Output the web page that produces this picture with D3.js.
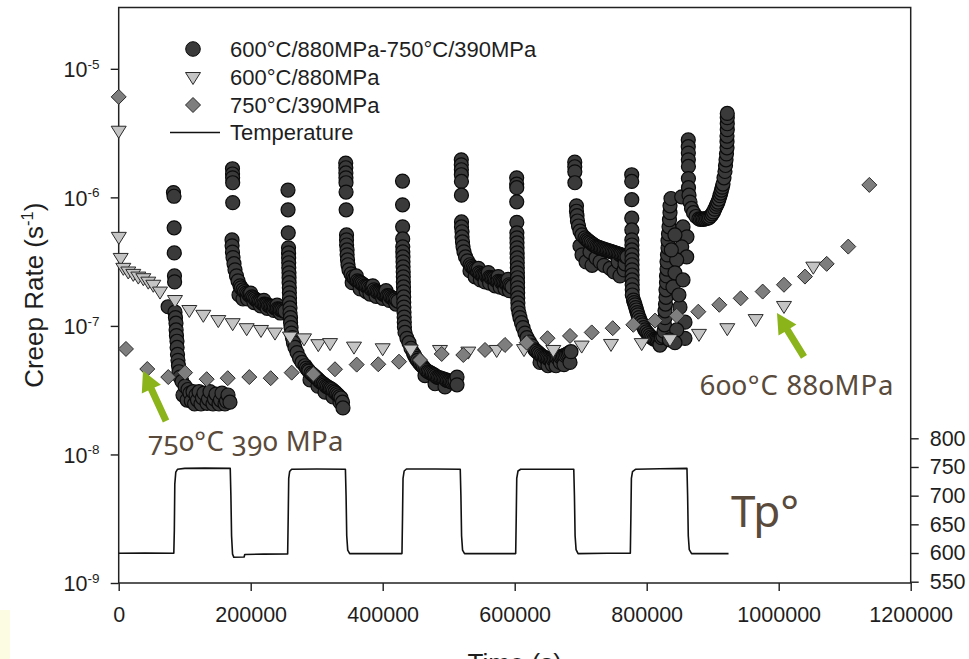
<!DOCTYPE html>
<html>
<head>
<meta charset="utf-8">
<script src="https://cdn.jsdelivr.net/npm/d3@7"></script>
<style>
  html, body { margin: 0; padding: 0; background: #ffffff; }
  svg { display: block; }
  .axis text { font-family: "Liberation Sans", Arial, sans-serif; fill: #1e1e1e; }
</style>
</head>
<body>
<svg id="chart" width="969" height="659"></svg>
<script>
// ---------------- data ----------------
// Axis ticks
const timeTicks = [0, 200000, 400000, 600000, 800000, 1000000, 1200000];
const rateTicks = [1e-9, 1e-8, 1e-7, 1e-6, 1e-5];
const tempTicks = [550, 600, 650, 700, 750, 800];

// Legend entries
const legendLabels = ["600°C/880MPa-750°C/390MPa", "600°C/880MPa", "750°C/390MPa", "Temperature"];

// Furnace temperature record of the cyclic test: [time (s), T (°C)]
const temperature = [
  [0, 599.5], [40000, 599.8], [83500, 599.5], [84300, 640], [85000, 720], [86500, 741], [89000, 746],
  [100000, 747.5], [130000, 748], [169000, 747.5], [170000, 700], [171000, 630], [172500, 598],
  [174500, 592.5], [190000, 593], [191000, 597.5], [220000, 598], [256000, 598.5], [256800, 660],
  [257600, 730], [259000, 742], [262000, 746], [300000, 746.5], [343500, 746], [344500, 700],
  [345500, 630], [347000, 605], [350000, 599], [400000, 599], [429200, 599], [430000, 660],
  [430800, 730], [432500, 743], [436000, 746.5], [480000, 746.5], [517500, 746], [518500, 700],
  [519500, 630], [521000, 605], [524000, 599], [560000, 599], [601500, 599], [602300, 660],
  [603100, 730], [605000, 743], [609000, 746], [650000, 746], [689500, 746], [690500, 700],
  [691500, 630], [693000, 606], [696000, 599], [740000, 599.5], [775200, 599.5], [776000, 660],
  [776800, 730], [778500, 742], [783000, 746], [820000, 747], [861000, 747.5], [862000, 700],
  [863000, 630], [864500, 606], [868000, 599], [900000, 599], [924000, 599]
];

// Constant-condition test 600°C / 880 MPa: [time (s), creep rate (1/s)]
const rate600 = [
  [0, 3.3e-6], [200, 4.93e-7], [3000, 3.38e-7], [7000, 2.83e-7], [14500, 2.65e-7], [22100, 2.54e-7],
  [29700, 2.42e-7], [37300, 2.35e-7], [44800, 2.21e-7], [52400, 2.09e-7], [62600, 1.85e-7],
  [85300, 1.59e-7], [107000, 1.33e-7], [128200, 1.22e-7], [150900, 1.11e-7], [172700, 1.05e-7],
  [193900, 9.6e-8], [215600, 9.3e-8], [236800, 8.87e-8], [259500, 8.26e-8], [280800, 8.0e-8],
  [302400, 7.21e-8], [320200, 7.35e-8], [356500, 6.9e-8], [400000, 6.7e-8], [442400, 6.55e-8],
  [486800, 6.5e-8], [529700, 6.31e-8], [572700, 6.5e-8], [614100, 6.6e-8], [658500, 6.5e-8],
  [701500, 7.03e-8], [745900, 7.24e-8], [792400, 7.35e-8], [835300, 7.89e-8], [879200, 8.67e-8],
  [922100, 9.6e-8], [965100, 1.13e-7], [1008000, 1.43e-7], [1052400, 2.89e-7]
];

// Constant-condition test 750°C / 390 MPa
const rate750 = [
  [0, 6.05e-6], [11000, 6.62e-8], [43300, 4.62e-8], [75100, 4.0e-8], [100500, 4.33e-8],
  [133300, 3.85e-8], [165200, 3.92e-8], [197900, 4.0e-8], [230300, 3.92e-8], [262100, 4.33e-8],
  [294800, 4.22e-8], [327700, 4.6e-8], [360600, 5.0e-8], [393300, 5.03e-8], [424700, 5.27e-8],
  [456500, 5.43e-8], [489400, 6.05e-8], [522100, 5.94e-8], [555000, 6.5e-8], [585300, 7.11e-8],
  [618200, 7.41e-8], [649700, 8.02e-8], [683800, 8.36e-8], [716700, 8.9e-8], [748500, 9.6e-8],
  [779700, 1.02e-7], [812600, 1.10e-7], [845400, 1.20e-7], [878200, 1.29e-7], [910000, 1.46e-7],
  [942400, 1.64e-7], [975700, 1.85e-7], [1008000, 2.09e-7], [1039800, 2.42e-7], [1072700, 3.04e-7],
  [1105400, 4.14e-7], [1137300, 1.25e-6]
];

// Cyclic test 600°C/880MPa <-> 750°C/390MPa, one array per stage
const cyclicStart = [[74900, 1.41e-7]];

const cycle1Hot = [
  [83000, 1.09e-6], [83800, 1.02e-6], [84000, 5.8e-7], [84200, 3.7e-7], [84500, 2.45e-7], [84700, 2.2e-7],
  [85300, 1.28e-7], [86000, 1.16e-7], [86800, 1.05e-7], [87000, 9.3e-8], [87500, 8.4e-8], [88300, 7.6e-8],
  [88500, 6.8e-8], [89100, 6.0e-8], [89800, 5.4e-8], [90600, 4.9e-8], [91400, 4.4e-8], [92900, 4.0e-8],
  [95900, 3.7e-8], [97400, 2.9e-8], [100500, 3.4e-8], [103600, 2.65e-8], [105000, 3.2e-8], [108000, 3.0e-8],
  [110000, 2.6e-8], [112600, 3.08e-8], [115000, 2.47e-8], [117100, 2.9e-8], [119400, 2.65e-8],
  [121700, 3.08e-8], [124700, 2.47e-8], [126900, 2.75e-8], [129200, 3.0e-8], [133800, 2.5e-8],
  [136000, 2.7e-8], [138300, 3.08e-8], [142900, 2.47e-8], [145100, 2.7e-8], [147400, 2.95e-8],
  [152000, 2.47e-8], [154200, 2.65e-8], [156500, 3.0e-8], [161100, 2.47e-8], [163300, 2.6e-8],
  [165600, 2.9e-8], [168600, 2.55e-8]
];

const cycle1Cold = [
  [172400, 1.67e-6], [172500, 1.52e-6], [172600, 1.42e-6], [172700, 1.30e-6], [172800, 9.1e-7],
  [171700, 4.67e-7], [171800, 4.2e-7], [172400, 3.75e-7], [173200, 3.4e-7], [174700, 3.05e-7],
  [176200, 2.73e-7], [178500, 2.45e-7], [180800, 2.24e-7], [183800, 2.05e-7], [182300, 1.74e-7],
  [185500, 1.98e-7], [188300, 1.91e-7], [188300, 1.62e-7], [190600, 1.85e-7], [192900, 1.80e-7],
  [195100, 1.77e-7], [195100, 1.62e-7], [197400, 1.74e-7], [199700, 1.71e-7], [200000, 1.80e-7],
  [202000, 1.68e-7], [204200, 1.65e-7], [205000, 1.52e-7], [206500, 1.62e-7], [208800, 1.59e-7],
  [211100, 1.56e-7], [213300, 1.55e-7], [215000, 1.43e-7], [215600, 1.53e-7], [217900, 1.50e-7],
  [220000, 1.58e-7], [220200, 1.48e-7], [222400, 1.47e-7], [224700, 1.46e-7], [225000, 1.37e-7],
  [227000, 1.44e-7], [229300, 1.43e-7], [231500, 1.42e-7], [233800, 1.41e-7], [235000, 1.32e-7],
  [236000, 1.39e-7], [238300, 1.37e-7], [240000, 1.45e-7], [240600, 1.36e-7], [242900, 1.35e-7],
  [245000, 1.26e-7], [245100, 1.34e-7], [247400, 1.33e-7], [249700, 1.31e-7], [252000, 1.30e-7]
];

const cycle2Hot = [
  [256500, 1.14e-6], [256600, 8.0e-7], [256900, 5.3e-7],
  [257300, 4.05e-7], [257400, 3.70e-7], [257500, 3.38e-7], [257600, 3.10e-7], [257700, 2.83e-7],
  [258000, 2.59e-7], [258100, 2.37e-7], [258200, 2.17e-7], [258500, 1.98e-7], [258600, 1.81e-7],
  [258800, 1.65e-7], [258900, 1.51e-7], [259500, 1.38e-7], [259600, 1.26e-7], [260300, 1.16e-7],
  [260400, 1.06e-7], [261100, 9.7e-8], [261800, 8.8e-8], [263300, 8.1e-8], [264800, 7.4e-8],
  [267100, 6.8e-8], [270200, 6.2e-8], [274000, 5.6e-8], [277700, 5.2e-8], [282300, 4.9e-8],
  [284500, 4.7e-8], [286800, 4.55e-8], [288300, 4.45e-8], [289900, 3.8e-8], [291400, 4.3e-8],
  [293600, 4.2e-8], [295900, 4.1e-8], [298200, 4.0e-8], [300500, 3.9e-8], [301900, 3.4e-8],
  [302700, 3.8e-8], [305000, 3.7e-8], [307300, 3.62e-8], [309600, 3.55e-8], [311800, 3.48e-8],
  [312600, 3.05e-8], [314100, 3.4e-8], [316400, 3.35e-8], [318700, 3.3e-8], [320900, 3.25e-8],
  [323200, 3.2e-8], [324700, 2.8e-8], [325400, 3.12e-8], [327700, 3.05e-8], [330000, 2.97e-8],
  [332300, 2.9e-8], [334500, 2.82e-8], [335300, 2.55e-8], [336800, 2.75e-8], [339100, 2.55e-8],
  [339800, 2.3e-8]
];

const cycle2Cold = [
  [344000, 1.85e-6], [344100, 1.70e-6], [344200, 1.55e-6], [344300, 1.42e-6], [344400, 1.30e-6],
  [344500, 1.10e-6], [344600, 8.0e-7],
  [345200, 5.1e-7], [345200, 4.67e-7], [345300, 4.26e-7], [346000, 3.9e-7], [346100, 3.57e-7],
  [346700, 3.26e-7], [347400, 2.99e-7], [348900, 2.73e-7], [352000, 2.54e-7], [353800, 2.17e-7],
  [355000, 2.41e-7], [357300, 2.34e-7], [359600, 2.28e-7], [360000, 2.45e-7], [361800, 2.24e-7],
  [364100, 2.20e-7], [365800, 1.94e-7], [366300, 2.17e-7], [368600, 2.13e-7], [370900, 2.09e-7],
  [373200, 2.05e-7], [375000, 1.85e-7], [375400, 2.03e-7], [377700, 2.01e-7], [380000, 1.97e-7],
  [380800, 1.77e-7], [382300, 1.94e-7], [384500, 1.92e-7], [385000, 2.05e-7], [386800, 1.91e-7],
  [389100, 1.86e-7], [390000, 1.70e-7], [391400, 1.84e-7], [393600, 1.82e-7], [395900, 1.81e-7],
  [398200, 1.79e-7], [400000, 1.64e-7], [400500, 1.77e-7], [402700, 1.75e-7], [405000, 1.74e-7],
  [405000, 1.88e-7], [407300, 1.72e-7], [409600, 1.71e-7], [410000, 1.58e-7], [411800, 1.68e-7],
  [414100, 1.65e-7], [416400, 1.63e-7], [418700, 1.62e-7], [420000, 1.48e-7], [420900, 1.59e-7],
  [423200, 1.56e-7]
];

const cycle3Hot = [
  [430000, 1.34e-6], [430100, 8.75e-7], [430200, 5.9e-7], [430300, 4.75e-7],
  [430400, 4.12e-7], [430500, 3.77e-7], [430700, 3.44e-7], [430800, 3.15e-7], [430900, 2.88e-7],
  [431100, 2.63e-7], [431200, 2.41e-7], [431300, 2.20e-7], [431500, 2.01e-7], [431600, 1.84e-7],
  [431800, 1.68e-7], [431900, 1.53e-7], [432100, 1.40e-7], [432300, 1.28e-7], [432500, 1.17e-7],
  [432700, 1.07e-7], [432900, 9.8e-8],
  [433800, 8.9e-8], [436800, 8.0e-8], [439800, 7.4e-8], [442900, 6.7e-8], [446700, 6.1e-8],
  [448600, 5.85e-8], [450500, 5.6e-8], [452700, 5.4e-8], [455000, 5.2e-8], [457200, 5.05e-8],
  [459500, 4.9e-8], [461800, 4.75e-8], [464100, 4.6e-8], [464100, 4.1e-8], [466300, 4.5e-8],
  [468600, 4.4e-8], [470900, 4.35e-8], [473200, 4.3e-8], [475400, 4.22e-8], [477700, 4.16e-8],
  [479300, 3.55e-8], [480000, 4.08e-8], [482300, 4.0e-8], [484500, 3.97e-8], [486800, 3.94e-8],
  [489100, 3.9e-8], [491400, 3.87e-8], [493600, 3.83e-8], [494400, 3.35e-8], [495900, 3.8e-8],
  [498200, 3.76e-8], [500500, 3.73e-8], [502700, 3.7e-8], [505000, 3.66e-8], [507300, 3.7e-8],
  [509600, 3.73e-8], [512600, 4.0e-8], [512600, 3.48e-8]
];

const cycle3Cold = [
  [519100, 1.96e-6], [519100, 1.79e-6], [519200, 1.64e-6], [519200, 1.50e-6], [519300, 1.33e-6],
  [519300, 1.04e-6],
  [519400, 6.44e-7], [519400, 5.89e-7], [520200, 5.40e-7], [520200, 4.92e-7], [520900, 4.5e-7],
  [521700, 4.12e-7], [523200, 3.77e-7], [525500, 3.44e-7], [528500, 3.21e-7], [532300, 2.99e-7],
  [532300, 2.68e-7], [534500, 2.9e-7], [536800, 2.83e-7], [539100, 2.78e-7], [540000, 2.41e-7],
  [541400, 2.73e-7], [543600, 2.66e-7], [545000, 2.80e-7], [545900, 2.59e-7], [548000, 2.28e-7],
  [548200, 2.54e-7], [550500, 2.49e-7], [552700, 2.47e-7], [555000, 2.45e-7], [555000, 2.20e-7],
  [557300, 2.43e-7], [559600, 2.41e-7], [560000, 2.60e-7], [561800, 2.39e-7], [562000, 2.15e-7],
  [564100, 2.37e-7], [566400, 2.35e-7], [568700, 2.33e-7], [570200, 2.05e-7], [570900, 2.28e-7],
  [573200, 2.24e-7], [575000, 2.42e-7], [575500, 2.22e-7], [577800, 2.20e-7], [578000, 2.00e-7],
  [580000, 2.18e-7], [582300, 2.17e-7], [584600, 2.15e-7], [585300, 1.94e-7], [586900, 2.13e-7],
  [589100, 2.11e-7], [590000, 2.30e-7], [591400, 2.09e-7], [592000, 1.88e-7], [593700, 2.05e-7],
  [596000, 2.01e-7]
];

const cycle4Hot = [
  [603000, 1.42e-6], [603000, 1.27e-6], [603100, 1.19e-6], [603100, 9.23e-7], [603200, 6.4e-7],
  [603300, 5.3e-7], [603400, 4.84e-7], [603500, 4.43e-7], [603600, 4.05e-7], [603700, 3.70e-7],
  [603800, 3.38e-7], [603900, 3.10e-7], [604000, 2.83e-7], [604100, 2.59e-7], [604200, 2.37e-7],
  [604300, 2.17e-7], [604400, 1.98e-7], [604500, 1.81e-7], [604600, 1.65e-7], [604800, 1.51e-7],
  [605000, 1.38e-7],
  [606500, 1.26e-7], [608000, 1.16e-7], [610300, 1.06e-7], [612600, 9.7e-8], [615600, 8.8e-8],
  [618600, 8.1e-8], [622400, 7.5e-8], [626200, 7.0e-8], [630700, 6.5e-8], [633000, 6.35e-8],
  [635300, 6.2e-8], [637500, 6.05e-8], [638400, 5.2e-8], [639800, 5.9e-8], [642100, 5.8e-8],
  [644400, 5.7e-8], [645000, 5.2e-8], [646600, 5.65e-8], [648900, 5.6e-8], [650400, 4.9e-8],
  [651200, 5.55e-8], [653500, 5.5e-8], [655700, 5.5e-8], [657000, 5.0e-8], [658000, 5.5e-8],
  [660300, 5.55e-8], [662600, 5.6e-8], [662600, 4.9e-8], [664800, 5.65e-8], [667100, 5.7e-8],
  [669000, 5.2e-8], [669400, 5.75e-8], [671700, 5.8e-8], [673900, 5.85e-8], [674700, 5.0e-8],
  [676200, 5.9e-8], [678500, 6.0e-8], [680800, 6.1e-8], [683000, 6.2e-8], [683800, 5.2e-8],
  [685300, 6.3e-8]
];

const cycle4Cold = [
  [691000, 1.88e-6], [691000, 1.73e-6], [691100, 1.58e-6], [691200, 1.30e-6],
  [693600, 8.6e-7], [693600, 7.8e-7], [694400, 7.2e-7], [695100, 6.55e-7], [696700, 5.99e-7],
  [698900, 5.47e-7], [698900, 4.19e-7], [702000, 5.1e-7], [702000, 3.57e-7], [706500, 4.84e-7],
  [708100, 3.15e-7], [709000, 4.7e-7], [711100, 4.6e-7], [713300, 4.5e-7], [714100, 3.77e-7],
  [715600, 4.43e-7], [717200, 2.96e-7], [718000, 4.33e-7], [720200, 4.26e-7], [722500, 4.18e-7],
  [723200, 3.38e-7], [724700, 4.12e-7], [727000, 4.08e-7], [729300, 4.05e-7], [729300, 3.15e-7],
  [731500, 4.0e-7], [733800, 3.97e-7], [735300, 2.96e-7], [736000, 3.93e-7], [738400, 3.90e-7],
  [740600, 3.86e-7], [742900, 3.83e-7], [744500, 2.8e-7], [745200, 3.8e-7], [747500, 3.77e-7],
  [749700, 3.73e-7], [750500, 2.63e-7], [752000, 3.70e-7], [754300, 3.67e-7], [756600, 3.64e-7],
  [756600, 3.15e-7], [758800, 3.6e-7], [759500, 2.45e-7], [761100, 3.57e-7], [763400, 3.54e-7],
  [765700, 3.51e-7], [765700, 2.73e-7], [767100, 3.04e-7], [768000, 3.47e-7], [770200, 3.44e-7]
];

const cycle5Hot = [
  [777300, 1.50e-6], [777300, 1.33e-6], [777400, 9.6e-7], [777400, 6.89e-7], [777500, 5.58e-7],
  [777500, 4.67e-7],
  [777600, 4.26e-7], [777600, 3.90e-7], [777700, 3.57e-7], [777700, 3.26e-7], [777800, 2.99e-7],
  [777800, 2.73e-7], [777900, 2.49e-7], [777900, 2.28e-7], [778000, 2.09e-7], [778100, 1.91e-7],
  [778200, 1.74e-7],
  [780000, 1.59e-7], [781100, 1.52e-7], [782300, 1.46e-7], [783400, 1.39e-7], [784600, 1.33e-7],
  [785700, 1.27e-7], [786800, 1.22e-7], [788300, 1.16e-7], [789900, 1.11e-7], [791700, 1.06e-7],
  [793600, 1.02e-7], [795500, 9.7e-8], [797400, 9.3e-8], [799700, 9.0e-8], [802000, 8.7e-8],
  [804300, 8.45e-8], [806500, 8.2e-8], [808800, 8.05e-8], [811100, 7.9e-8], [813300, 7.85e-8],
  [815600, 7.8e-8], [817900, 7.85e-8], [820100, 7.9e-8], [820100, 7.1e-8], [822400, 8.1e-8],
  [824700, 8.3e-8],
  [826200, 9.1e-8], [827000, 1.02e-7], [827700, 1.16e-7], [827700, 1.31e-7], [828500, 1.48e-7],
  [829200, 1.67e-7], [829200, 1.91e-7], [830000, 2.17e-7], [830000, 2.45e-7], [830800, 2.77e-7],
  [830800, 3.15e-7], [831500, 3.57e-7], [832300, 4.04e-7], [832300, 4.6e-7], [833000, 5.2e-7],
  [833800, 5.9e-7], [834500, 6.7e-7], [835300, 7.6e-7], [835300, 8.6e-7], [836800, 9.8e-7],
  [853000, 1.01e-6], [855000, 5.89e-7], [861000, 4.93e-7], [853000, 4.12e-7], [860600, 3.44e-7],
  [845400, 3.26e-7], [842800, 2.59e-7], [839800, 2.01e-7], [850400, 1.40e-7], [858000, 1.07e-7],
  [858000, 8.0e-8], [845400, 9.3e-8], [834300, 7.8e-8], [842800, 7.4e-8], [848800, 1.74e-7],
  [855000, 2.28e-7], [837300, 3.90e-7], [842800, 5.10e-7]
];

const cycle5Cold = [
  [863000, 2.80e-6], [863000, 2.48e-6], [863100, 2.21e-6], [863100, 1.96e-6], [863200, 1.74e-6],
  [863200, 1.40e-6],
  [863300, 1.19e-6], [864100, 1.04e-6], [865600, 9.2e-7], [867900, 8.2e-7], [870900, 7.6e-7],
  [874700, 7.1e-7], [879200, 6.8e-7], [881500, 6.75e-7], [883800, 6.8e-7], [886000, 6.75e-7],
  [888300, 6.8e-7], [890600, 6.85e-7], [892900, 6.9e-7], [895100, 7.0e-7], [897400, 7.2e-7],
  [899300, 7.45e-7], [901200, 7.7e-7], [903100, 8.1e-7], [905000, 8.5e-7], [906500, 8.85e-7],
  [908000, 9.2e-7], [909500, 9.7e-7], [911000, 1.03e-6], [912200, 1.08e-6], [913300, 1.14e-6],
  [914500, 1.2e-6], [915600, 1.27e-6], [917100, 1.42e-6], [918600, 1.59e-6], [919400, 1.77e-6],
  [920200, 1.96e-6], [920900, 2.18e-6], [921700, 2.43e-6], [921700, 2.71e-6], [921700, 3.0e-6],
  [922100, 3.36e-6], [922100, 3.74e-6], [922100, 4.17e-6], [922100, 4.5e-6]
];

const cyclic = [].concat(cyclicStart, cycle1Hot, cycle1Cold, cycle2Hot, cycle2Cold,
  cycle3Hot, cycle3Cold, cycle4Hot, cycle4Cold, cycle5Hot, cycle5Cold);

// Annotation callouts: arrow tail/tip in data units
const calloutLabels = ["750°C 390 MPa", "600°C 880MPa", "Tp°"];
const arrow750 = { tail: [71700, 1.82e-8], tip: [36800, 4.47e-8] };
const arrow600 = { tail: [1038300, 5.74e-8], tip: [997400, 1.26e-7] };

// ---------------- chart ----------------
const svg = d3.select("#chart");
const frame = { left: 118.7, right: 910.7, top: 7.5, bottom: 583 };

const x = d3.scaleLinear().domain([0, 1200000]).range([frame.left, frame.right]);
const y = d3.scaleLog().domain([1e-9, 3e-5]).range([frame.bottom, frame.top]);
const yT = d3.scaleLinear().domain([550, 800]).range([581.7, 438.3]);

const ink = "#1e1e1e";
const sans = '"Liberation Sans", Arial, sans-serif';

// pale strip in the lower-left corner
svg.append("rect").attr("x", 0).attr("y", 610).attr("width", 10).attr("height", 49).attr("fill", "#fbfce2");

// bottom axis
const gx = svg.append("g").attr("class", "axis")
  .attr("transform", `translate(0,${frame.bottom})`)
  .call(d3.axisBottom(x).tickValues(timeTicks).tickSize(8).tickPadding(16).tickFormat(d3.format("d")));
gx.select(".domain").remove();
gx.selectAll(".tick line").attr("stroke", ink).attr("stroke-width", 1.4);
gx.selectAll(".tick text").attr("font-size", 21.5).attr("font-family", sans);

// left axis (log)
const gy = svg.append("g").attr("class", "axis")
  .attr("transform", `translate(${frame.left},0)`)
  .call(d3.axisLeft(y).tickValues(rateTicks).tickSize(8).tickFormat(""));
gy.select(".domain").remove();
gy.selectAll(".tick line").attr("stroke", ink).attr("stroke-width", 1.4);
gy.selectAll(".tick").each(function (d) {
  const t = d3.select(this).append("text")
    .attr("x", -19.2).attr("y", 7.7)
    .attr("text-anchor", "end").attr("font-family", sans).attr("fill", ink)
    .attr("font-size", 21.5);
  t.append("tspan").text("10");
  t.append("tspan").attr("font-size", 13.5).attr("dy", -8.5).text(String(Math.round(Math.log10(d))));
});

// right axis (temperature)
const gr = svg.append("g").attr("class", "axis")
  .attr("transform", `translate(${frame.right},0)`)
  .call(d3.axisRight(yT).tickValues(tempTicks).tickSize(8).tickPadding(11));
gr.select(".domain").remove();
gr.selectAll(".tick line").attr("stroke", ink).attr("stroke-width", 1.4);
gr.selectAll(".tick text").attr("font-size", 21.5).attr("font-family", sans);

// plot frame
svg.append("rect")
  .attr("x", frame.left).attr("y", frame.top)
  .attr("width", frame.right - frame.left).attr("height", frame.bottom - frame.top)
  .attr("fill", "none").attr("stroke", "#222").attr("stroke-width", 1.5);

// axis titles
const yTitle = svg.append("text")
  .attr("transform", `translate(43,${(frame.top + frame.bottom) / 2}) rotate(-90)`)
  .attr("text-anchor", "middle").attr("font-family", sans).attr("font-size", 26).attr("fill", ink);
yTitle.append("tspan").text("Creep Rate (s");
yTitle.append("tspan").attr("font-size", 16.5).attr("dy", -10).text("-1");
yTitle.append("tspan").attr("dy", 10).text(")");

svg.append("text")
  .attr("x", (frame.left + frame.right) / 2).attr("y", 672)
  .attr("text-anchor", "middle").attr("font-family", sans).attr("font-size", 26).attr("fill", ink)
  .text("Time (s)");

// temperature trace
svg.append("path")
  .datum(temperature)
  .attr("fill", "none").attr("stroke", "#111").attr("stroke-width", 1.6)
  .attr("stroke-linejoin", "round")
  .attr("d", d3.line().x(d => x(d[0])).y(d => yT(d[1])));

// marker shapes
const triPath = "M-7.5,-4.5L7.5,-4.5L0,7.5Z";
const diaPath = "M0,-7.5L7.5,0L0,7.5L-7.5,0Z";
const circleStyle = { fill: "#3a3a3a", stroke: "#0b0b0b" };
const triStyle = { fill: "#c4c4c4", stroke: "#2a2a2a" };
const diaStyle = { fill: "#7e7e7e", stroke: "#2a2a2a" };

// cyclic test (drawn first, underneath)
svg.append("g").selectAll("circle").data(cyclic).join("circle")
  .attr("cx", d => x(d[0])).attr("cy", d => y(d[1])).attr("r", 7)
  .attr("fill", circleStyle.fill).attr("stroke", circleStyle.stroke).attr("stroke-width", 1.2);

// 600°C / 880 MPa
svg.append("g").selectAll("path").data(rate600).join("path")
  .attr("transform", d => `translate(${x(d[0])},${y(d[1])})`)
  .attr("d", triPath).attr("fill", triStyle.fill).attr("stroke", triStyle.stroke).attr("stroke-width", 1);

// 750°C / 390 MPa
svg.append("g").selectAll("path").data(rate750).join("path")
  .attr("transform", d => `translate(${x(d[0])},${y(d[1])})`)
  .attr("d", diaPath).attr("fill", diaStyle.fill).attr("stroke", diaStyle.stroke).attr("stroke-width", 1);

// legend
const lg = svg.append("g").attr("font-family", sans).attr("font-size", 22).attr("fill", ink);
const lgX = 193, lgTextX = 230, lgRows = [49, 77, 105, 132.5];
lg.append("circle").attr("cx", lgX).attr("cy", lgRows[0]).attr("r", 7.3)
  .attr("fill", circleStyle.fill).attr("stroke", circleStyle.stroke);
lg.append("path").attr("transform", `translate(${lgX},${lgRows[1]})`).attr("d", triPath)
  .attr("fill", triStyle.fill).attr("stroke", triStyle.stroke);
lg.append("path").attr("transform", `translate(${lgX},${lgRows[2]})`).attr("d", diaPath)
  .attr("fill", diaStyle.fill).attr("stroke", diaStyle.stroke);
lg.append("line").attr("x1", 170).attr("x2", 220).attr("y1", lgRows[3]).attr("y2", lgRows[3])
  .attr("stroke", "#111").attr("stroke-width", 1.6);
legendLabels.forEach((s, i) => {
  lg.append("text").attr("x", lgTextX).attr("y", lgRows[i] + 7.8).text(s);
});

// callout arrows
function arrowPath(tail, tip, shaft, headW, headL) {
  const [x0, y0] = tail, [x1, y1] = tip;
  const dx = x1 - x0, dy = y1 - y0, len = Math.hypot(dx, dy);
  const ux = dx / len, uy = dy / len, nx = -uy, ny = ux;
  const bx = x1 - ux * headL, by = y1 - uy * headL;
  const p = [
    [x0 + nx * shaft / 2, y0 + ny * shaft / 2],
    [bx + nx * shaft / 2, by + ny * shaft / 2],
    [bx + nx * headW / 2, by + ny * headW / 2],
    [x1, y1],
    [bx - nx * headW / 2, by - ny * headW / 2],
    [bx - nx * shaft / 2, by - ny * shaft / 2],
    [x0 - nx * shaft / 2, y0 - ny * shaft / 2]
  ];
  return "M" + p.map(q => q.join(",")).join("L") + "Z";
}
[arrow750, arrow600].forEach(a => {
  svg.append("path")
    .attr("d", arrowPath([x(a.tail[0]), y(a.tail[1])], [x(a.tip[0]), y(a.tip[1])], 7, 21, 20))
    .attr("fill", "#8ab41a");
});

// callout labels
const noteFont = 'Candara, "Noto Sans", "Open Sans", sans-serif';
const noteColor = "#594a3b";
function note(text, tx, ty, size, spacing) {
  svg.append("text").attr("x", tx).attr("y", ty)
    .attr("font-family", noteFont).attr("font-size", size).attr("fill", noteColor)
    .attr("letter-spacing", spacing)
    .style("font-feature-settings", "'onum' 1").style("font-variant-numeric", "oldstyle-nums")
    .text(text);
}
note(calloutLabels[0], x(44400), y(1.06e-8), 27.5, 0.4);
note(calloutLabels[1], x(880700), y(2.9e-8), 27.5, 0.9);
note(calloutLabels[2], x(927700), yT(645), 44, 0);
</script>
</body>
</html>
